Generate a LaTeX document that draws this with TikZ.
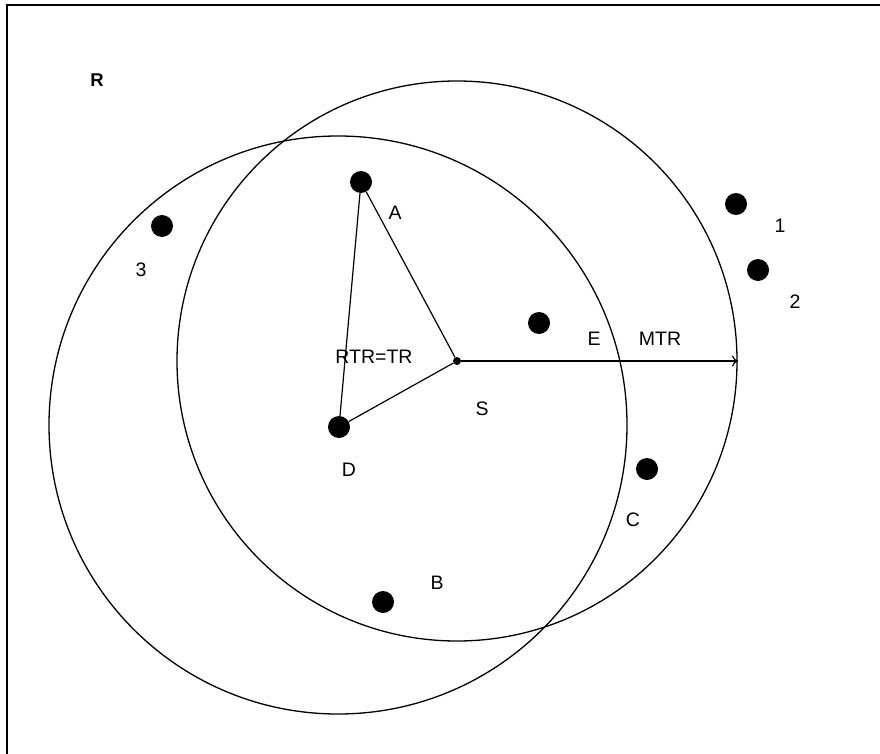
\documentclass[tikz,border=0pt]{standalone}
\usepackage{fontspec}
\setmainfont{Liberation Sans}
\usetikzlibrary{arrows.meta}
\begin{document}
\begin{tikzpicture}[x=1pt,y=-1pt,
  dot/.style={circle,fill=black,inner sep=0pt,minimum size=22pt},
  sdot/.style={circle,fill=black,inner sep=0pt,minimum size=8pt},
  lbl/.style={font=\fontsize{19.5}{23}\selectfont,inner sep=0pt},
  ring/.style={line width=1.3pt},
  edge/.style={line width=1.2pt}]
\useasboundingbox (0,0) rectangle (880,754);
\fill[white] (0,0) rectangle (880,754);
% frame
\draw[line width=1.8pt] (880,5) -- (7,5) -- (7,754);
% centres
\coordinate (C2) at (338,425);
\node[sdot] (S) at (457,361) {};
% circles
\draw[ring] (S) circle[radius=280];
\draw[ring] (C2) circle[radius=289];
% dots
\node[dot] (A) at (361,182) {};
\node[dot] (three) at (162,226) {};
\node[dot] (one) at (736,204) {};
\node[dot] (two) at (758,270) {};
\node[dot] (E) at (539,323) {};
\node[dot] (D) at (339,427) {};
\node[dot] (C) at (647,469) {};
\node[dot] (B) at (383,602) {};
% triangle
\draw[edge] (A) -- (D);
\draw[edge] (A) -- (S);
\draw[edge] (D) -- (S);
% MTR arrow
\coordinate (M) at (738,361);
\draw[edge,-{To[length=6pt,width=11pt]}] (S) -- (M);
% labels
\node[lbl,font=\bfseries\fontsize{18.5}{22}\selectfont] (lR) at (97,80) {R};
\node[lbl] (lA) at (395,213) {A};
\node[lbl] (l3) at (141,270) {3};
\node[lbl] (l1) at (780,226) {1};
\node[lbl] (l2) at (795,302) {2};
\node[lbl] (lE) at (594,339) {E};
\node[lbl] (lMTR) at (660,339) {MTR};
\node[lbl] (lRTR) at (374,357) {RTR=TR};
\node[lbl] (lS) at (482,409) {S};
\node[lbl] (lD) at (349,470) {D};
\node[lbl] (lC) at (633,520) {C};
\node[lbl] (lB) at (437,583) {B};
\end{tikzpicture}
\end{document}
